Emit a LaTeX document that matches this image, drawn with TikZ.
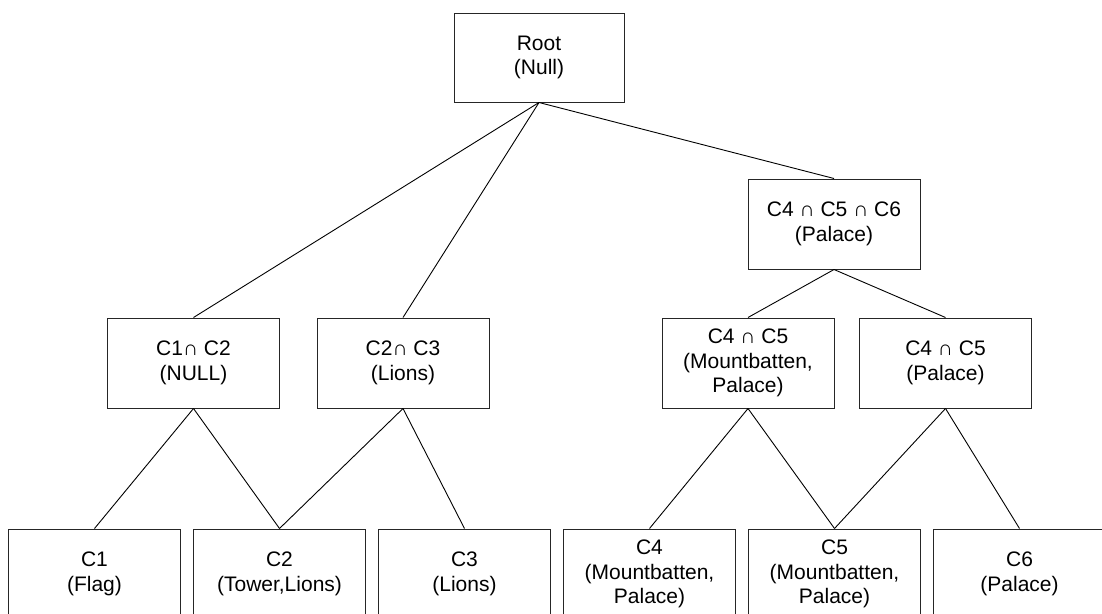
\documentclass[tikz,border=0pt]{standalone}
\usepackage{fontspec}
\setmainfont{Liberation Sans}
\begin{document}
\begin{tikzpicture}[x=1pt,y=-1pt,
  box/.style={draw=black!85,line width=1pt,fill=white,minimum width=172pt,minimum height=90pt,
    inner sep=0pt,align=center,font=\fontsize{21}{24.5}\selectfont},
  link/.style={draw=black,line width=0.9pt}]
\useasboundingbox (0,0) rectangle (1102,613);
\clip (0,0) rectangle (1102,613);
\node[box,minimum width=170pt,minimum height=89pt] (root) at (539,57.5) {Root\\(Null)};
\node[box] (c456) at (834,224) {C4 ∩ C5 ∩ C6\\(Palace)};
\node[box] (c12) at (193.5,363) {C1∩ C2\\(NULL)};
\node[box] (c23) at (403,363) {C2∩ C3\\(Lions)};
\node[box] (c45a) at (748,363) {C4 ∩ C5\\(Mountbatten,\\Palace)};
\node[box] (c45b) at (945.5,363) {C4 ∩ C5\\(Palace)};
\node[box] (n1) at (94.5,574) {C1\\(Flag)};
\node[box] (n2) at (279.5,574) {C2\\(Tower,Lions)};
\node[box] (n3) at (464.5,574) {C3\\(Lions)};
\node[box] (n4) at (649.5,574) {C4\\(Mountbatten,\\Palace)};
\node[box] (n5) at (834.5,574) {C5\\(Mountbatten,\\Palace)};
\node[box] (n6) at (1019.5,574) {C6\\(Palace)};
\draw[link] (root.south) -- (c12.north);
\draw[link] (root.south) -- (c23.north);
\draw[link] (root.south) -- (c456.north);
\draw[link] (c456.south) -- (c45a.north);
\draw[link] (c456.south) -- (c45b.north);
\draw[link] (c12.south) -- (n1.north);
\draw[link] (c12.south) -- (n2.north);
\draw[link] (c23.south) -- (n2.north);
\draw[link] (c23.south) -- (n3.north);
\draw[link] (c45a.south) -- (n4.north);
\draw[link] (c45a.south) -- (n5.north);
\draw[link] (c45b.south) -- (n5.north);
\draw[link] (c45b.south) -- (n6.north);
\end{tikzpicture}
\end{document}
